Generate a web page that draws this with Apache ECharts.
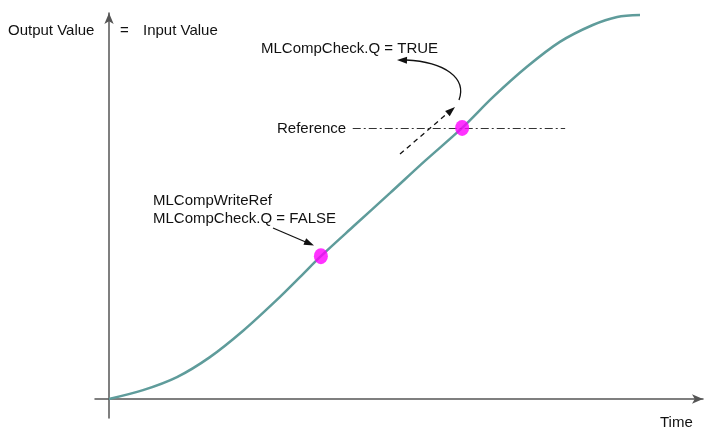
<!DOCTYPE html>
<html>
<head>
<meta charset="utf-8">
<script src="https://cdn.jsdelivr.net/npm/echarts@6/dist/echarts.min.js"></script>
<style>
  html, body { margin: 0; padding: 0; background: #fff; }
  #chart { width: 704px; height: 432px; }
</style>
</head>
<body>
<div id="chart"></div>
<script>
// curve: output value follows input value over time (0..100 on both scales)
const timeVals = [0, 6.4, 12.8, 19.0, 25.2, 31.6, 36.0, 39.9, 46.3, 52.9, 59.5, 66.5, 72.3, 78.7, 84.9, 91.1, 95.7, 100];
const outputVals = [0, 2.3, 5.7, 10.9, 17.7, 25.8, 31.8, 37.2, 45.3, 53.6, 62.0, 70.6, 78.6, 86.5, 93.0, 97.4, 99.5, 100];

// the two marked moments (write reference / check true)
const markTimes = [39.9, 66.5];
const markVals = [37.2, 70.6];

// reference level line
const refLevel = 70.6;
const refRange = [45.9, 85.9];

const FONT = '"Liberation Sans", Arial, sans-serif';
const TXT = '#111';

const chart = echarts.init(document.getElementById('chart'));

// small arrow head helper (pixel space)
function head(tx, ty, dx, dy, len, wid) {
    const l = Math.sqrt(dx * dx + dy * dy);
    const ux = dx / l, uy = dy / l;
    const bx = tx - ux * len, by = ty - uy * len;
    return {
        type: 'polygon',
        shape: { points: [[tx, ty], [bx - uy * wid / 2, by + ux * wid / 2], [bx + uy * wid / 2, by - ux * wid / 2]] },
        style: { fill: '#111' }
    };
}

function label(text, x, y) {
    return {
        type: 'text', x: x, y: y,
        style: { text: text, fill: TXT, font: '15px ' + FONT, textVerticalAlign: 'middle' }
    };
}

chart.setOption({
    animation: false,
    grid: { left: 95, right: 1, top: 13, bottom: 14 },
    xAxis: {
        type: 'value', min: -2.64, max: 111.86,
        axisLine: { onZero: true, symbol: ['none', 'arrow'], symbolSize: [7, 11], lineStyle: { color: '#555', width: 1.5 } },
        axisTick: { show: false }, axisLabel: { show: false }, splitLine: { show: false }
    },
    yAxis: {
        type: 'value', min: -4.95, max: 100.52,
        axisLine: { onZero: true, symbol: ['none', 'arrow'], symbolSize: [7, 11], lineStyle: { color: '#555', width: 1.5 } },
        axisTick: { show: false }, axisLabel: { show: false }, splitLine: { show: false }
    },
    series: [
        {
            type: 'line',
            data: timeVals.map((t, i) => [t, outputVals[i]]),
            smooth: 0.3,
            showSymbol: false,
            lineStyle: { color: '#5f9c9b', width: 2.5 }
        },
        {
            type: 'scatter',
            data: markTimes.map((t, i) => [t, markVals[i]]),
            symbolSize: [14, 16],
            itemStyle: { color: '#ff00ff' },
            z: 5,
            markLine: {
                silent: true,
                symbol: 'none',
                label: { show: false },
                lineStyle: { color: '#333', width: 1, type: [8, 3, 2, 3] },
                data: [[{ coord: [refRange[0], refLevel] }, { coord: [refRange[1], refLevel] }]]
            }
        }
    ],
    graphic: [
        label('Output Value', 8, 31),
        label('=', 120, 31),
        label('Input Value', 143, 31),
        label('MLCompCheck.Q = TRUE', 261, 49),
        label('Reference', 277, 129),
        label('MLCompWriteRef', 153, 201),
        label('MLCompCheck.Q = FALSE', 153, 219),
        label('Time', 660, 423),
        // arrow to write-ref point
        { type: 'line', shape: { x1: 273, y1: 228, x2: 308, y2: 243 }, style: { stroke: '#111', lineWidth: 1.3 } },
        head(314, 245.5, 40, 17, 10, 7),
        // dashed arrow crossing reference
        { type: 'line', shape: { x1: 400, y1: 154, x2: 449, y2: 112 }, style: { stroke: '#111', lineWidth: 1.3, lineDash: [5, 4] } },
        head(455, 107, 52, -45, 10, 7),
        // curved arrow up to TRUE label
        { type: 'bezierCurve', shape: { x1: 459, y1: 100, cpx1: 467, cpy1: 78, cpx2: 445, cpy2: 62, x2: 406, y2: 60 }, style: { stroke: '#111', lineWidth: 1.3, fill: null } },
        head(397, 60, -43, -1, 10, 7)
    ]
});
</script>
</body>
</html>
